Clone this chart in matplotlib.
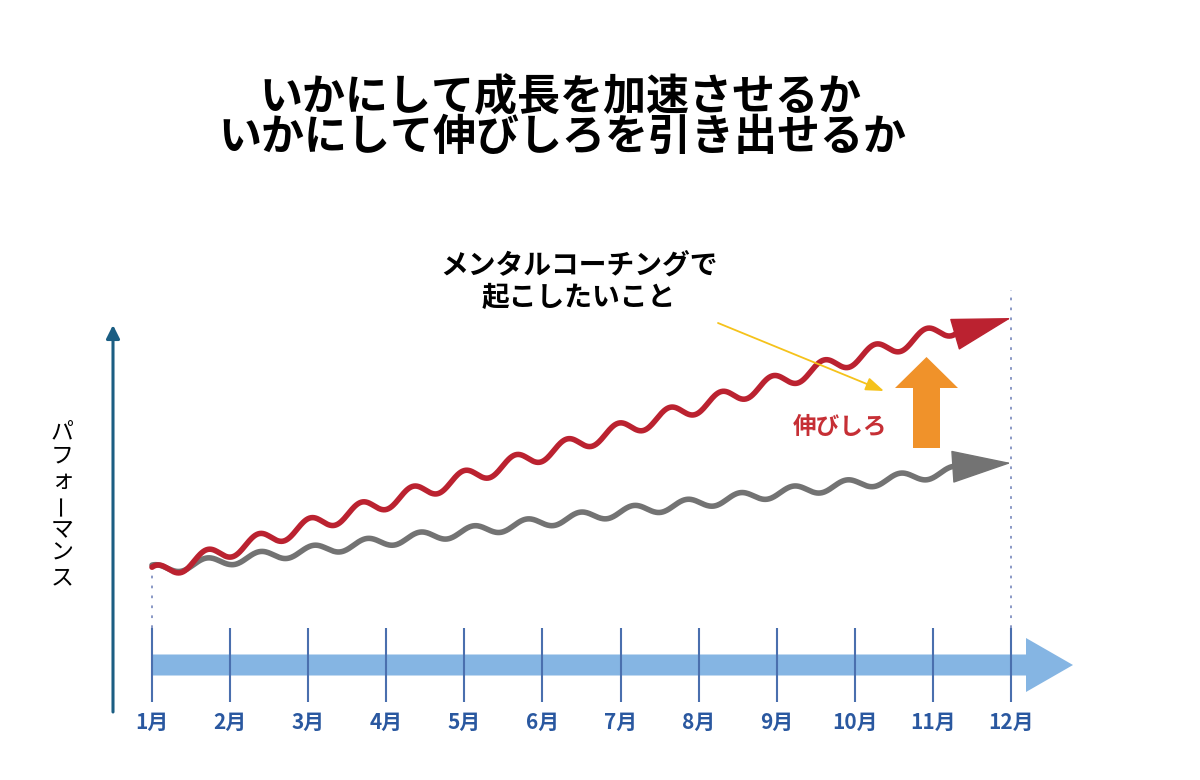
#! /usr/bin/env python3

"Growth illustration: performance over the months, with and without mental coaching"

import numpy as np
import matplotlib
matplotlib.use("Agg")
import matplotlib.pyplot as plt
from matplotlib.patches import FancyArrow

plt.rcParams['font.family'] = ['Noto Sans CJK JP', 'DejaVu Sans']

# --- data ---
title_lines = ['いかにして成長を加速させるか', 'いかにして伸びしろを引き出せるか']
months = np.arange(1, 13)
month_labels = ['%d月' % m for m in months]
red_trend = [2.6, 5.0, 7.4, 9.8, 12.2, 14.6, 17.0, 19.4, 21.8, 24.2, 26.6, 29.0]
gray_trend = [3.0, 4.0, 4.9, 5.9, 6.8, 7.8, 8.8, 9.7, 10.7, 11.6, 12.6, 13.6]
red_tip = 28.2
gray_tip = 13.7
y_label = 'パフォーマンス'
note_lines = ['メンタルコーチングで', '起こしたいこと']
gap_label = '伸びしろ'

RED = '#bb2230'
GRAY = '#737373'
BLUE_BAR = '#85b5e3'
TICK = '#4a6fae'
LABEL_BLUE = '#2a58a0'


def px(x):
    "pixel column -> month units"
    return 1 + (x - 152) / 78.09


def py(y):
    "pixel row -> performance units"
    return (600 - y) / 10


def wavy(ax, trend, x_end, period, amp, color, tip, z):
    """
    Draws the trend as a wavy line and finishes it with an arrow head at month 12
    """
    x = np.linspace(1, x_end, 1000)
    base = np.interp(x, months, trend)
    y = base + amp * np.cos(2 * np.pi * (x - 1.704) / period)
    ax.plot(x, y, color=color, lw=4, solid_capstyle='round', zorder=z)
    ax.annotate('', xy=(12, tip), xytext=(x[-1], y[-1]),
                arrowprops=dict(arrowstyle='-|>,head_length=40,head_width=11',
                                mutation_scale=1, color=color, lw=1,
                                shrinkA=0, shrinkB=0),
                zorder=z)


fig = plt.figure(figsize=(12, 7.8), dpi=100)
ax = fig.add_axes([0, 0, 1, 1])
ax.set_xlim(px(0), px(1200))
ax.set_ylim(py(780), py(0))
ax.axis('off')

# title
fig.text(560 / 1200, 1 - 97 / 780, title_lines[0], ha='center', va='center',
         fontsize=31, fontweight='bold')
fig.text(562 / 1200, 1 - 137 / 780, title_lines[1], ha='center', va='center',
         fontsize=31, fontweight='bold')

# vertical axis arrow
ax.annotate('', xy=(px(113), py(325)), xytext=(px(113), py(712)),
            arrowprops=dict(arrowstyle='-|>,head_length=8,head_width=4',
                            mutation_scale=1, color='#1b5e83', lw=2.2,
                            shrinkA=0, shrinkB=0))

# vertical label, one upright character at a time
for i, ch in enumerate(y_label):
    ax.text(px(62), py(432 + 24.3 * i), ch, ha='center', va='center',
            fontsize=16.5, rotation=90 if ch == 'ー' else 0)

# time axis
ax.add_patch(FancyArrow(1, py(665), px(1073) - 1, 0, width=2.1, head_width=5.4,
                        head_length=px(1073) - px(1026), length_includes_head=True,
                        color=BLUE_BAR, lw=0, zorder=1))
ax.vlines(months, py(702), py(628), color=TICK, lw=1.5, zorder=2)
ax.vlines([1], py(628), py(565), color='#8090c0', lw=1.3,
          linestyles=[(0, (1.5, 4))], zorder=1)
ax.vlines([12], py(628), py(290), color='#8090c0', lw=1.3,
          linestyles=[(0, (1.5, 4))], zorder=1)
for m, lab in zip(months, month_labels):
    ax.text(m, py(722), lab, ha='center', va='center', fontsize=15,
            fontweight='bold', color=LABEL_BLUE)

# the two growth curves
wavy(ax, gray_trend, px(958), 0.683, 0.5, GRAY, gray_tip, 3)
wavy(ax, red_trend, px(955), 0.658, 0.75, RED, red_tip, 4)

# annotations
ax.text(px(579), py(266), note_lines[0], ha='center', va='center',
        fontsize=20, fontweight='bold')
ax.text(px(579), py(298), note_lines[1], ha='center', va='center',
        fontsize=20, fontweight='bold')
ax.annotate('', xy=(px(884), py(391)), xytext=(px(718), py(323)),
            arrowprops=dict(arrowstyle='-|>,head_length=11,head_width=4',
                            mutation_scale=1, color='#f5c21b', lw=1.3,
                            shrinkA=0, shrinkB=0), zorder=6)
ax.text(px(840), py(427), gap_label, ha='center', va='center', fontsize=17,
        fontweight='bold', color='#c62f35')
ax.add_patch(FancyArrow(px(926.5), py(448), 0, py(357) - py(448),
                        width=px(940) - px(913), head_width=px(958) - px(895),
                        head_length=3.1, length_includes_head=True,
                        color='#f0922a', lw=0, zorder=5))

fig.savefig('out.png', dpi=100)
